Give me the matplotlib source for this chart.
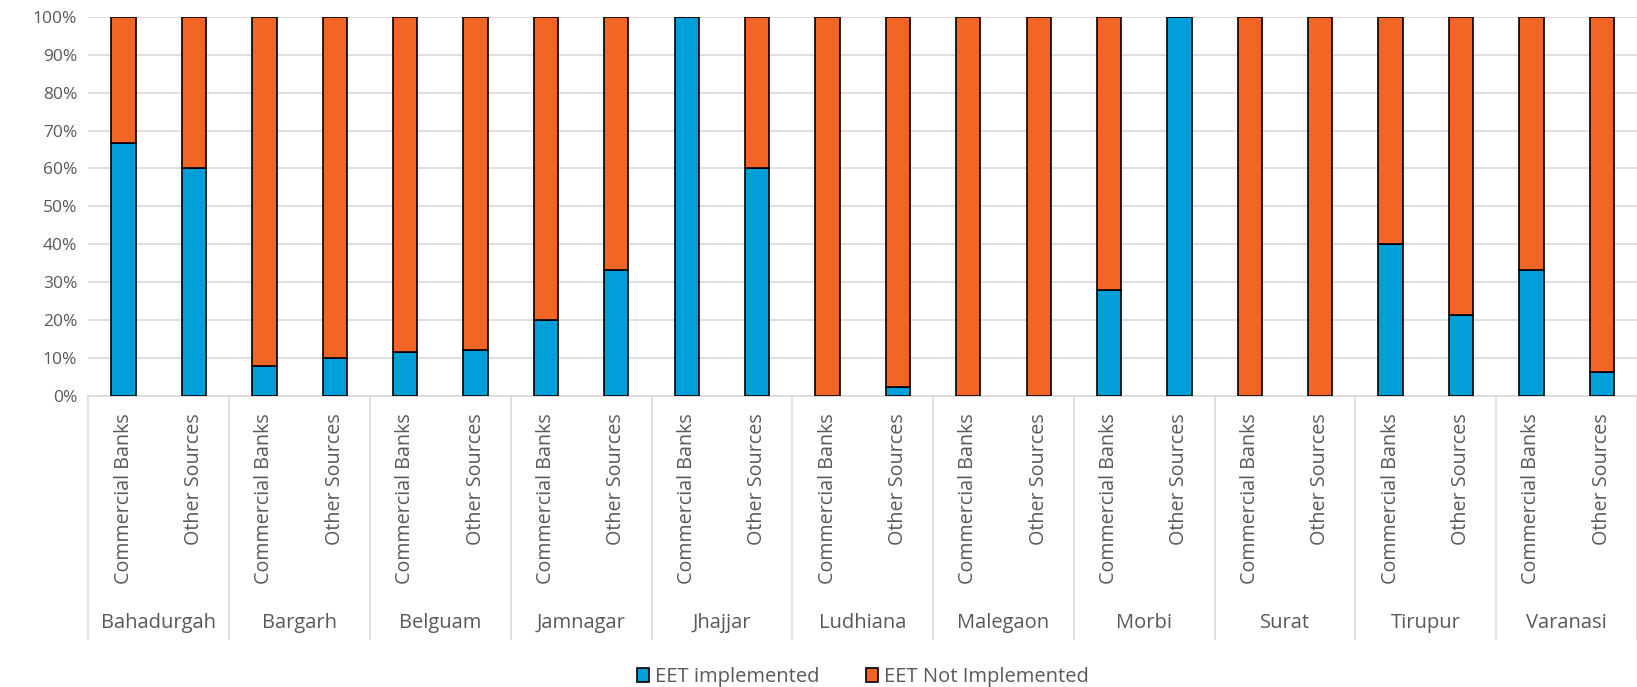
import numpy as np
import matplotlib.pyplot as plt
import matplotlib.transforms as mtransforms

# data
cities = ['Bahadurgah', 'Bargarh', 'Belguam', 'Jamnagar', 'Jhajjar', 'Ludhiana',
          'Malegaon', 'Morbi', 'Surat', 'Tirupur', 'Varanasi']
sources = ['Commercial Banks', 'Other Sources']
implemented = [66.7, 60, 8, 10, 11.5, 12, 20, 33.3, 100, 60, 0, 2.5,
               0, 0, 28, 100, 0, 0, 40, 21.4, 33.3, 6.3]
not_implemented = [100 - v for v in implemented]

blue = '#009FD9'
orange = '#F26524'
grid_grey = '#D9D9D9'
text_grey = '#595959'

plt.rcParams['font.family'] = ['Open Sans', 'DejaVu Sans']

fig = plt.figure(figsize=(16.37, 6.87), dpi=100)
ax = fig.add_axes([0.054, 0.4236, 0.946, 0.552])

x = np.arange(len(implemented))
width = 0.345
ax.bar(x, implemented, width, color=blue, edgecolor='black', linewidth=1.2,
       label='EET implemented', zorder=3)
ax.bar(x, not_implemented, width, bottom=implemented, color=orange,
       edgecolor='black', linewidth=1.2, label='EET Not Implemented', zorder=3)

ax.set_xlim(-0.5, len(implemented) - 0.5)
ax.set_ylim(0, 100)
ax.set_yticks(np.arange(0, 101, 10))
ax.set_yticklabels([f'{v}%' for v in range(0, 101, 10)], fontsize=12.5, color=text_grey)
ax.yaxis.grid(True, color=grid_grey, linewidth=1.2, zorder=0)
ax.tick_params(axis='y', length=0, pad=8)
ax.set_xticks([])
for side in ['top', 'right', 'left']:
    ax.spines[side].set_visible(False)
ax.spines['bottom'].set_color(grid_grey)
ax.spines['bottom'].set_linewidth(1.2)

# two-level category axis
trans = mtransforms.blended_transform_factory(ax.transData, ax.transAxes)
for i in range(len(cities) + 1):
    xb = 2 * i - 0.5
    ax.plot([xb, xb], [0, -0.64], transform=trans, color=grid_grey,
            linewidth=1.2, clip_on=False)
for i, xi in enumerate(x):
    ax.text(xi, -0.045, sources[i % 2], transform=trans, rotation=90,
            ha='center', va='top', fontsize=14.2, color=text_grey)
for i, city in enumerate(cities):
    ax.text(2 * i + 0.5, -0.598, city, transform=trans, ha='center',
            va='center', fontsize=14.5, color=text_grey)

ax.legend(loc='center', bbox_to_anchor=(0.5, -0.74), ncol=2, frameon=False,
          fontsize=14.5, labelcolor=text_grey, handlelength=0.6,
          handleheight=0.7, columnspacing=2.3, handletextpad=0.3)

fig.savefig('out.png', dpi=100)
